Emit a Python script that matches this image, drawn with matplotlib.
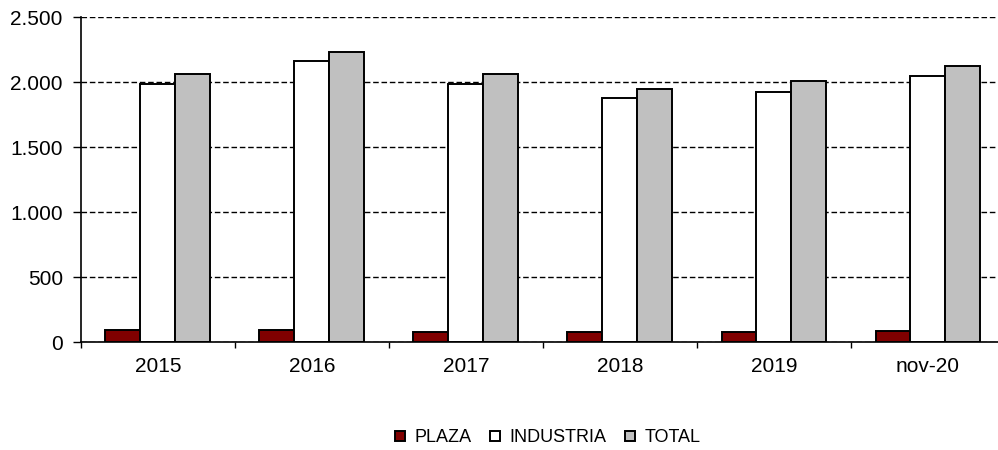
import numpy as np
import matplotlib
matplotlib.use("Agg")
import matplotlib.pyplot as plt
from matplotlib.ticker import FuncFormatter, FixedLocator

plt.rcParams['font.family'] = ['Liberation Sans', 'DejaVu Sans']

categories = ["2015", "2016", "2017", "2018", "2019", "nov-20"]
plaza = [90, 90, 80, 80, 80, 88]
industria = [1985, 2160, 1985, 1880, 1925, 2050]
total = [2065, 2235, 2065, 1945, 2005, 2125]

series = [("PLAZA", plaza, "#800000"),
          ("INDUSTRIA", industria, "#ffffff"),
          ("TOTAL", total, "#c0c0c0")]

fig = plt.figure(figsize=(9.98, 4.5), dpi=100)
ax = fig.add_axes([0.081, 0.24, 0.926, 0.722])

x = np.arange(len(categories))
w = 0.227
for i, (name, vals, col) in enumerate(series):
    ax.bar(x + (i - 1) * w, vals, width=w, color=col, edgecolor="black",
           linewidth=1.4, label=name, zorder=3)

ax.set_xlim(-0.5, len(categories) - 0.5)
ax.set_ylim(0, 2500)
ax.set_yticks(np.arange(0, 2501, 500))
ax.yaxis.set_major_formatter(FuncFormatter(lambda v, p: f"{int(v):,}".replace(",", ".")))
ax.grid(axis="y", linestyle=(0, (4, 2)), color="black", linewidth=1, zorder=0)

ax.set_xticks(x)
ax.set_xticklabels(categories)
ax.xaxis.set_minor_locator(FixedLocator(np.arange(-0.5, len(categories), 1)))
ax.tick_params(axis="x", which="major", length=0, pad=11, labelsize=15)
ax.tick_params(axis="x", which="minor", length=4, width=1, direction="out")
ax.tick_params(axis="y", length=6, width=1, direction="out", labelsize=15, pad=7)

for s in ["top", "right"]:
    ax.spines[s].set_visible(False)
ax.spines["left"].set_linewidth(1.2)
ax.spines["bottom"].set_linewidth(1.2)
ax.spines["bottom"].set_zorder(4)

fig.legend(loc="center", bbox_to_anchor=(0.549, 0.027), ncol=3, frameon=False,
           fontsize=13, handlelength=0.55, handleheight=0.55, handletextpad=0.5,
           columnspacing=1.05)

fig.savefig("out.png", dpi=100)
